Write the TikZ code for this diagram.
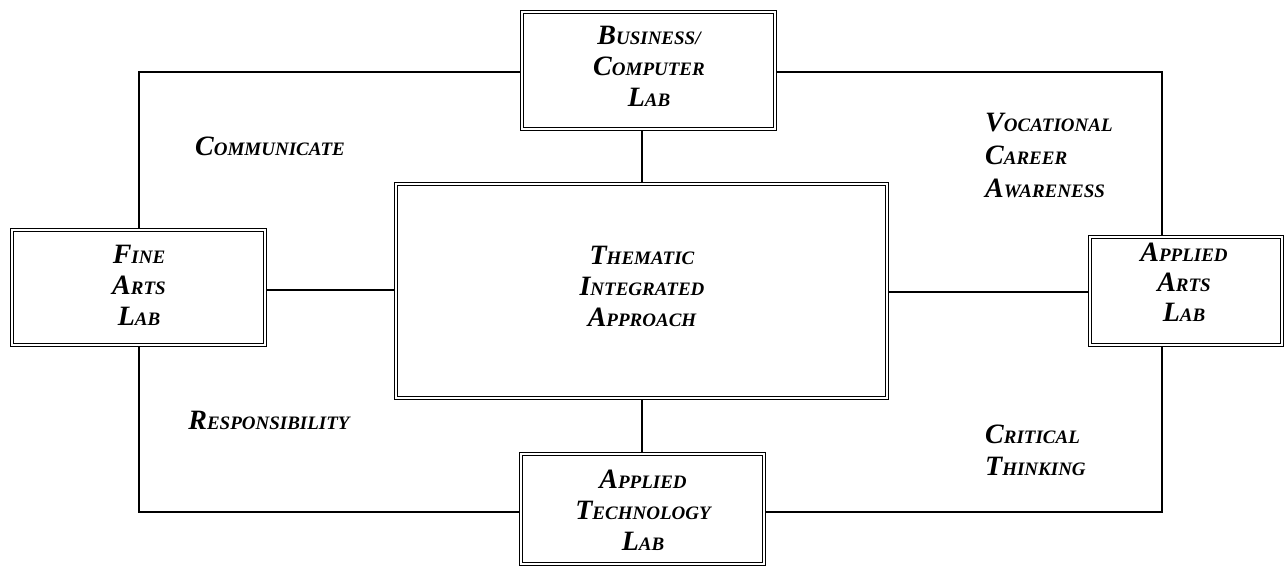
\documentclass[tikz,border=0pt]{standalone}
\usepackage{fontspec}
\setmainfont{Liberation Serif}
\usetikzlibrary{backgrounds}
\newcommand\SC[2]{{\fontsize{28}{27}\selectfont #1}{\fontsize{19}{27}\selectfont #2}}
\begin{document}
\begin{tikzpicture}[x=1pt,y=-1pt,
  box/.style={draw=black, line width=1.1pt, double=white, double distance=1.8pt, fill=white, rectangle, inner sep=0pt},
  lbl/.style={font=\bfseries\itshape\fontsize{28}{31}\selectfont, align=center, inner sep=0pt},
  conn/.style={line width=1.4pt}]
\useasboundingbox (0,0) rectangle (1287,567);
% boxes
\node[box, minimum width=253pt, minimum height=117pt] (tc) at (648.5,70.5) {};
\node[box, minimum width=491pt, minimum height=214pt] (cc) at (641.5,291) {};
\node[box, minimum width=253pt, minimum height=115pt] (fa) at (138.5,287.5) {};
\node[box, minimum width=192pt, minimum height=108pt] (aa) at (1186,291) {};
\node[box, minimum width=243pt, minimum height=110pt] (bb) at (642.5,509) {};
% box texts
\node[lbl] (tct) at (649,66) {\SC{B}{USINESS/}\\\SC{C}{OMPUTER}\\\SC{L}{AB}};
\node[lbl] (fat) at (139,285) {\SC{F}{INE}\\\SC{A}{RTS}\\\SC{L}{AB}};
\node[lbl] (cct) at (642,286) {\SC{T}{HEMATIC}\\\SC{I}{NTEGRATED}\\\SC{A}{PPROACH}};
\node[lbl, font=\bfseries\itshape\fontsize{28}{30}\selectfont] (aat) at (1184,282) {\SC{A}{PPLIED}\\\SC{A}{RTS}\\\SC{L}{AB}};
\node[lbl] (bbt) at (643,510) {\SC{A}{PPLIED}\\\SC{T}{ECHNOLOGY}\\\SC{L}{AB}};
% free labels
\node[lbl] (com) at (270,146) {\SC{C}{OMMUNICATE}};
\node[lbl] (res) at (269,420) {\SC{R}{ESPONSIBILITY}};
\node[lbl, align=left, anchor=west, font=\bfseries\itshape\fontsize{28}{33}\selectfont] (voc) at (985,155) {\SC{V}{OCATIONAL}\\\SC{C}{AREER}\\\SC{A}{WARENESS}};
\node[lbl, align=left, anchor=west, font=\bfseries\itshape\fontsize{28}{32}\selectfont] (cri) at (985,450) {\SC{C}{RITICAL}\\\SC{T}{HINKING}};
% connectors
\coordinate (xL) at (139,0);
\coordinate (xR) at (1162,0);
\coordinate (xM) at (642,0);
\coordinate (yT) at (0,72);
\coordinate (yB) at (0,512);
\coordinate (yH1) at (0,290);
\coordinate (yH2) at (0,292);
\begin{scope}[on background layer]
\draw[conn] (tc.south -| xM) -- (cc.north -| xM);
\draw[conn] (cc.south -| xM) -- (bb.north -| xM);
\draw[conn] (fa.east |- yH1) -- (cc.west |- yH1);
\draw[conn] (cc.east |- yH2) -- (aa.west |- yH2);
\draw[conn] (fa.north -| xL) |- (tc.west |- yT);
\draw[conn] (tc.east |- yT) -| (aa.north -| xR);
\draw[conn] (fa.south -| xL) |- (bb.west |- yB);
\draw[conn] (bb.east |- yB) -| (aa.south -| xR);
\end{scope}
\end{tikzpicture}
\end{document}
